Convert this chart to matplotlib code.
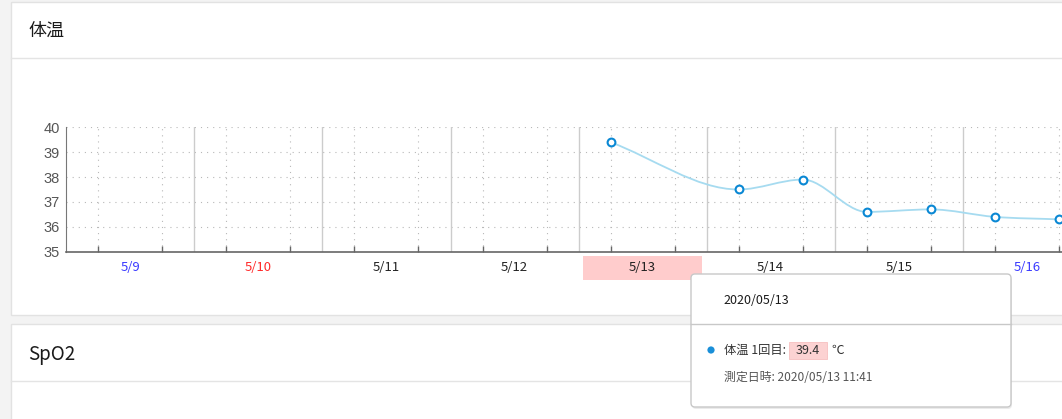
import numpy as np
import matplotlib
matplotlib.use("Agg")
import matplotlib.pyplot as plt
from matplotlib.path import Path
from matplotlib.patches import PathPatch, Rectangle, FancyBboxPatch, Circle
from matplotlib.transforms import blended_transform_factory

plt.rcParams['font.family'] = ['Noto Sans CJK JP', 'DejaVu Sans']

# ----------------------------------------------------
#                      DATA
# ----------------------------------------------------
day_labels = ['5/9', '5/10', '5/11', '5/12', '5/13', '5/14', '5/15', '5/16']
day_colors = ['#3a3aff', '#ff2a2a', '#222222', '#222222', '#222222', '#222222', '#222222', '#3a3aff']
selected_day = '5/13'

temp_day = ['5/13', '5/14', '5/14', '5/15', '5/15', '5/16', '5/16']
temp_slot = ['AM', 'AM', 'PM', 'AM', 'PM', 'AM', 'PM']
temp_values = [39.4, 37.5, 37.9, 36.6, 36.7, 36.4, 36.3]

y_ticks = [35, 36, 37, 38, 39, 40]

panel_titles = ['体温', 'SpO2']

tooltip_date = '2020/05/13'
tooltip_label = '体温 1回目:'
tooltip_value = temp_values[0]
tooltip_unit = '℃'
tooltip_measured = '測定日時: 2020/05/13 11:41'

# ----------------------------------------------------
#                     LAYOUT
# ----------------------------------------------------
W, H = 1062, 419
fig = plt.figure(figsize=(W / 100, H / 100), dpi=100)
fig.patch.set_facecolor('#f3f3f3')

# background layer (pixel coords, y down)
bg = fig.add_axes([0, 0, 1, 1], zorder=-5)
bg.set_xlim(0, W)
bg.set_ylim(H, 0)
bg.axis('off')

# panels
bg.add_patch(Rectangle((11, 2), 1080, 313, facecolor='white', edgecolor='#e2e2e2', lw=1))
bg.plot([11, W], [58.5, 58.5], color='#e4e4e4', lw=1)
bg.add_patch(Rectangle((11, 323.5), 1080, 120, facecolor='white', edgecolor='#e2e2e2', lw=1))
bg.plot([11, W], [380.5, 380.5], color='#e4e4e4', lw=1)
bg.text(28, 31, panel_titles[0], fontsize=13, color='#1a1a1a', va='center', ha='left')
bg.text(28, 354, panel_titles[1], fontsize=13.5, color='#1a1a1a', va='center', ha='left')

# ----------------------------------------------------
#                   TEMP CHART
# ----------------------------------------------------
day_px = 128.07
ax_left, ax_top, ax_bottom = 66.3, 127.3, 251.7
n_days = len(day_labels)
ax = fig.add_axes([ax_left / W, 1 - ax_bottom / H,
                   n_days * day_px / W, (ax_bottom - ax_top) / H])
ax.set_facecolor('none')
ax.set_xlim(0, n_days)
ax.set_ylim(y_ticks[0], y_ticks[-1])

for s in ['top', 'right']:
    ax.spines[s].set_visible(False)
ax.spines['left'].set_color('#777777')
ax.spines['bottom'].set_color('#666666')
ax.spines['bottom'].set_linewidth(1.2)

# grid: dotted horizontals, dotted quarter-day verticals, solid day boundaries
for yv in y_ticks[1:]:
    ax.axhline(yv, color='#b8b8b8', lw=0.8, ls=(0, (1, 4.5)), zorder=0)
quarters = [d + q for d in range(n_days) for q in (0.25, 0.75)]
for xv in quarters:
    ax.axvline(xv, color='#b8b8b8', lw=0.8, ls=(0, (1, 4.5)), zorder=0)
for xv in range(1, n_days):
    ax.axvline(xv, color='#cccccc', lw=1, zorder=0)

# ticks
ax.set_yticks(y_ticks)
ax.set_yticklabels([str(v) for v in y_ticks], family='Liberation Sans',
                   fontsize=10.5, color='#555555')
ax.tick_params(axis='y', length=0, pad=4.5)
ax.set_xticks([i + 0.5 for i in range(n_days)])
ax.set_xticklabels(day_labels, fontsize=9.5)
for lbl, c in zip(ax.get_xticklabels(), day_colors):
    lbl.set_color(c)
ax.tick_params(axis='x', length=0, pad=7)
ax.set_xticks(quarters, minor=True)
ax.tick_params(axis='x', which='minor', direction='in', length=4.5,
               color='#666666', width=1)

# highlight box behind the selected day label
sel = day_labels.index(selected_day)
trans = blended_transform_factory(ax.transData, ax.transAxes)
ax.add_patch(Rectangle((sel + 0.035, -0.227), 0.93, 0.192, transform=trans,
                       facecolor='#ffcccc', edgecolor='none', clip_on=False, zorder=1))

# point positions
slot_off = {'AM': 0.25, 'PM': 0.75}
xs = np.array([day_labels.index(d) + slot_off[s] for d, s in zip(temp_day, temp_slot)])
ys = np.array(temp_values, dtype=float)

# monotone cubic curve (Fritsch-Carlson) drawn as bezier path
dx = np.diff(xs)
dk = np.diff(ys) / dx
m = np.zeros(len(xs))
m[0], m[-1] = dk[0], dk[-1]
for i in range(1, len(xs) - 1):
    m[i] = 0 if dk[i - 1] * dk[i] <= 0 else (dk[i - 1] + dk[i]) / 2
for i in range(len(dk)):
    if dk[i] == 0:
        m[i] = m[i + 1] = 0
        continue
    a, b = m[i] / dk[i], m[i + 1] / dk[i]
    r = a * a + b * b
    if r > 9:
        t = 3 / np.sqrt(r)
        m[i], m[i + 1] = t * a * dk[i], t * b * dk[i]
verts = [(xs[0], ys[0])]
codes = [Path.MOVETO]
for i in range(len(dx)):
    h = dx[i] / 3
    verts += [(xs[i] + h, ys[i] + m[i] * h),
              (xs[i + 1] - h, ys[i + 1] - m[i + 1] * h),
              (xs[i + 1], ys[i + 1])]
    codes += [Path.CURVE4] * 3
ax.add_patch(PathPatch(Path(verts, codes), facecolor='none',
                       edgecolor='#a6dbf0', lw=1.3, zorder=3))
ax.plot(xs, ys, 'o', ms=5.6, mfc='white', mec='#0a88d4', mew=1.5,
        zorder=4, clip_on=False)

# ----------------------------------------------------
#                     TOOLTIP
# ----------------------------------------------------
tip = fig.add_axes([0, 0, 1, 1], zorder=10)
tip.set_xlim(0, W)
tip.set_ylim(H, 0)
tip.axis('off')
tip.patch.set_alpha(0)

tip.add_patch(FancyBboxPatch((692, 276), 320, 133, boxstyle='round,pad=0,rounding_size=4',
                             facecolor='#000000', edgecolor='none', alpha=0.08))
tip.add_patch(FancyBboxPatch((691, 274), 320, 133, boxstyle='round,pad=0,rounding_size=4',
                             facecolor='white', edgecolor='#c8c8c8', lw=1))
tip.plot([691, 1011], [323.5, 323.5], color='#c8c8c8', lw=1)
tip.text(723, 300, tooltip_date, fontsize=9, color='#1a1a1a', va='center', ha='left')
tip.add_patch(Circle((711, 350), 3.6, facecolor='#1a8fd8', edgecolor='none'))
tip.text(724, 350, tooltip_label, fontsize=8.8, color='#333333', va='center', ha='left')
tip.add_patch(Rectangle((789, 341.5), 38, 17, facecolor='#fcd2d2', edgecolor='#f6c0c0', lw=0.6))
tip.text(808, 350, f'{tooltip_value:.1f}', fontsize=9, color='#333333', va='center', ha='center')
tip.text(831, 350, tooltip_unit, fontsize=9, color='#333333', va='center', ha='left')
tip.text(724, 377, tooltip_measured, fontsize=8.6, color='#555555', va='center', ha='left')

fig.savefig('out.png', dpi=100)
